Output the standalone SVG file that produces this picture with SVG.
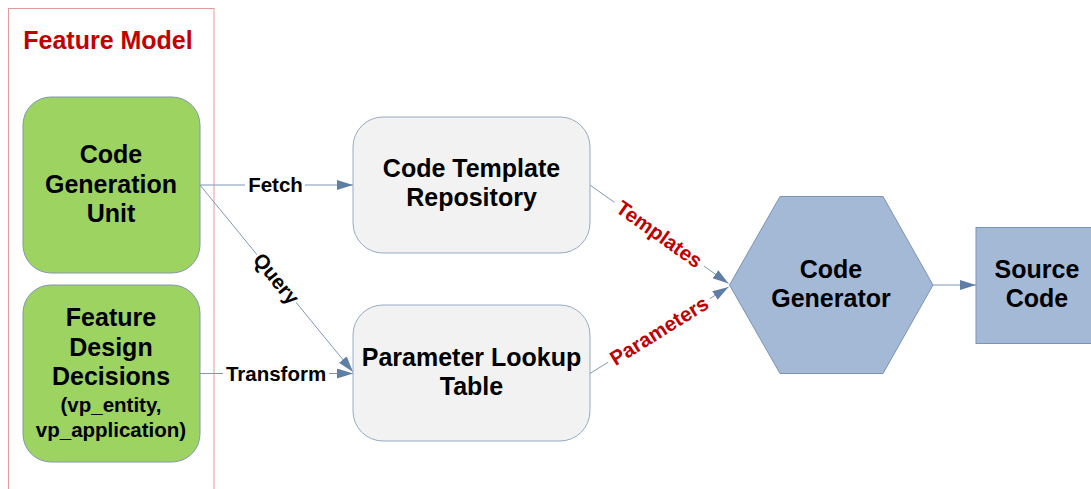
<svg xmlns="http://www.w3.org/2000/svg" width="1091" height="489" viewBox="0 0 1091 489">
  <style>
    .lbl { font-family: "Liberation Sans", Arial, sans-serif; font-weight: bold; fill: #000; text-anchor: middle; }
    .node { font-size: 25px; }
    .small { font-size: 20.5px; }
    .edge { font-size: 20.5px; }
    .red { fill: #c00000; }
    .green { fill: #9dd360; stroke: #8196b2; stroke-width: 1; }
    .grey { fill: #f2f2f2; stroke: #97a9c3; stroke-width: 1; }
    .blue { fill: #a4b9d6; stroke: #7c93b6; stroke-width: 1; }
    .conn { stroke: #7f97bb; stroke-width: 1; fill: none; marker-end: url(#arrow); }
    .bg { fill: #fff; }
  </style>
  <defs>
    <marker id="arrow" markerUnits="userSpaceOnUse" markerWidth="17" markerHeight="11" refX="16" refY="5" orient="auto">
      <path d="M0,0 L16,5 L0,10 z" fill="#5f7ea6"/>
    </marker>
  </defs>

  <rect width="1091" height="489" fill="#fff"/>

  <!-- Feature Model frame -->
  <g id="feature-model">
    <rect x="8.5" y="8.5" width="205.5" height="500" fill="none" stroke="#e69a9a" stroke-width="1"/>
    <text class="lbl red" x="108" y="48.5" style="font-size:25px">Feature Model</text>
  </g>

  <!-- connectors -->
  <g id="connectors">
    <line class="conn" x1="200" y1="185" x2="353" y2="185"/>
    <line class="conn" x1="200" y1="185" x2="353" y2="372"/>
    <line class="conn" x1="200" y1="373.5" x2="353" y2="373.5"/>
    <line class="conn" x1="590" y1="185" x2="728.5" y2="283.5"/>
    <line class="conn" x1="590" y1="373.5" x2="728.5" y2="287"/>
    <line class="conn" x1="933" y1="285" x2="976" y2="285"/>

    <!-- labels with white backing -->
    <rect class="bg" x="245" y="174" width="60" height="22"/>
    <text class="lbl edge" x="275.5" y="192">Fetch</text>

    <rect class="bg" x="223" y="362" width="106" height="22"/>
    <text class="lbl edge" x="276" y="380.5">Transform</text>

    <g transform="translate(276.5 278.5) rotate(50.7)">
      <rect class="bg" x="-31" y="-11" width="62" height="22"/>
      <text class="lbl edge" x="0" y="7.3">Query</text>
    </g>

    <g transform="translate(659.5 234) rotate(35.4)">
      <rect class="bg" x="-55" y="-11" width="110" height="22"/>
      <text class="lbl edge red" x="0" y="7.3">Templates</text>
    </g>

    <g transform="translate(659 330.5) rotate(-32)">
      <rect class="bg" x="-60" y="-11" width="120" height="22"/>
      <text class="lbl edge red" x="0" y="7.3">Parameters</text>
    </g>
  </g>

  <!-- Code Generation Unit -->
  <g id="code-generation-unit">
    <rect class="green" x="23" y="97" width="177" height="176" rx="28" ry="28"/>
    <text class="lbl node" x="111" y="163">Code</text>
    <text class="lbl node" x="111" y="192.5">Generation</text>
    <text class="lbl node" x="111" y="222">Unit</text>
  </g>

  <!-- Feature Design Decisions -->
  <g id="feature-design-decisions">
    <rect class="green" x="23" y="285" width="177" height="177" rx="28" ry="28"/>
    <text class="lbl node" x="111" y="326">Feature</text>
    <text class="lbl node" x="111" y="355.5">Design</text>
    <text class="lbl node" x="111" y="385">Decisions</text>
    <text class="lbl small" x="111" y="412">(vp_entity,</text>
    <text class="lbl small" x="111" y="437">vp_application)</text>
  </g>

  <!-- Code Template Repository -->
  <g id="code-template-repository">
    <rect class="grey" x="353" y="117" width="237" height="136" rx="30" ry="30"/>
    <text class="lbl node" x="471.5" y="177">Code Template</text>
    <text class="lbl node" x="471.5" y="206">Repository</text>
  </g>

  <!-- Parameter Lookup Table -->
  <g id="parameter-lookup-table">
    <rect class="grey" x="353" y="305" width="237" height="136" rx="30" ry="30"/>
    <text class="lbl node" x="471.5" y="366">Parameter Lookup</text>
    <text class="lbl node" x="471.5" y="395">Table</text>
  </g>

  <!-- Code Generator -->
  <g id="code-generator">
    <polygon class="blue" points="729.5,285 780,196.5 883,196.5 933,285 883,373.5 780,373.5"/>
    <text class="lbl node" x="831" y="278">Code</text>
    <text class="lbl node" x="831" y="306.5">Generator</text>
  </g>

  <!-- Source Code -->
  <g id="source-code">
    <rect class="blue" x="976" y="227.5" width="124" height="116"/>
    <text class="lbl node" x="1037" y="278">Source</text>
    <text class="lbl node" x="1037" y="306.5">Code</text>
  </g>
</svg>
